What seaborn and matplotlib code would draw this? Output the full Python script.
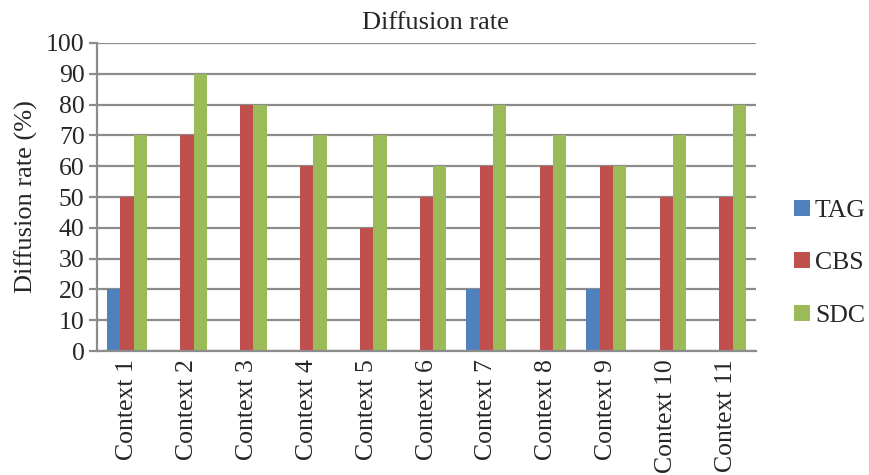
import numpy as np
import pandas as pd
import matplotlib
matplotlib.use("Agg")
import matplotlib.pyplot as plt
import seaborn as sns
from matplotlib.patches import Patch

contexts = [f"Context {i}" for i in range(1, 12)]
series_names = ["TAG", "CBS", "SDC"]
tag = [20, 0, 0, 0, 0, 0, 20, 0, 20, 0, 0]
cbs = [50, 70, 80, 60, 40, 50, 60, 60, 60, 50, 50]
sdc = [70, 90, 80, 70, 70, 60, 80, 70, 60, 70, 80]
colors = ["#4F81BD", "#C0504D", "#9BBB59"]

df = pd.DataFrame({
    "context": contexts * 3,
    "series": sum([[s] * len(contexts) for s in series_names], []),
    "rate": tag + cbs + sdc,
})

sns.set_theme(style="white")
plt.rcParams["font.family"] = ["Liberation Serif", "DejaVu Serif"]

fig = plt.figure(figsize=(8.7, 4.75), dpi=100)
ax = fig.add_axes([0.1115, 0.261, 0.7575, 0.6485])

sns.barplot(data=df, x="context", y="rate", hue="series", order=contexts,
            hue_order=series_names, palette=colors, width=0.667,
            saturation=1, linewidth=0, legend=False, ax=ax)

grid_c = "#8C8C8C"
ax.set_ylim(0, 100)
ax.set_yticks(range(0, 101, 10))
ax.set_xlim(-0.5, len(contexts) - 0.5)
ax.yaxis.grid(True, color=grid_c, linewidth=1.6)
ax.set_axisbelow(True)
for side in ["top", "right"]:
    ax.spines[side].set_visible(False)
for side in ["left", "bottom"]:
    ax.spines[side].set_color(grid_c)
    ax.spines[side].set_linewidth(1.6)

ax.set_xticks(np.arange(len(contexts)))
ax.set_xticklabels(contexts, rotation=90, fontsize=18.5)
ax.set_xticks(np.arange(-0.5, len(contexts)), minor=True)
ax.tick_params(axis="x", which="major", length=0, pad=6)
ax.tick_params(axis="x", which="minor", length=6, width=1.6, color=grid_c, direction="out")
ax.tick_params(axis="y", which="major", length=6, width=1.6, color=grid_c,
               direction="out", labelsize=18.5, pad=3, left=True)

ax.set_xlabel("")
ax.set_ylabel("Diffusion rate (%)", fontsize=19, labelpad=6)
fig.text(0.501, 0.951, "Diffusion rate", ha="center", va="center", fontsize=19)

handles = [Patch(facecolor=c, edgecolor="none") for c in colors]
fig.legend(handles, series_names, loc="center left", bbox_to_anchor=(0.913, 0.446),
           frameon=False, fontsize=18.5, handlelength=0.6, handleheight=0.6,
           handletextpad=0.2, labelspacing=1.18, borderpad=0, borderaxespad=0)

fig.savefig("out.png", dpi=100, facecolor="white")
